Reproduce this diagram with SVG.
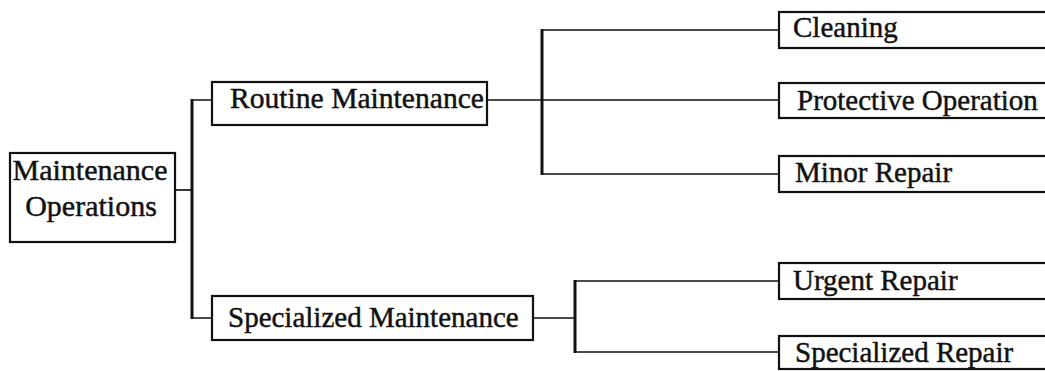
<svg xmlns="http://www.w3.org/2000/svg" width="1045" height="371" viewBox="0 0 1045 371">
  <style>
    .box { fill: #ffffff; stroke: #111111; stroke-width: 2.2; }
    .lbl { font-family: "Liberation Serif", "Times New Roman", serif; font-size: 29px; fill: #111111; stroke: #111111; stroke-width: 0.45; }
    .main { font-size: 30px; text-anchor: middle; }
    .wire { fill: none; stroke: #111111; stroke-width: 1.7; }
    .bus { fill: none; stroke: #111111; stroke-width: 3; }
  </style>
  <rect width="1045" height="371" fill="#ffffff"/>

  <!-- connectors -->
  <g id="connectors">
    <!-- root to first level -->
    <path class="wire" d="M175 190 H192"/>
    <path class="bus" d="M192 99 V319"/>
    <path class="wire" d="M192 100 H212 M192 318 H212"/>
    <!-- routine maintenance branch -->
    <path class="wire" d="M487 100 H779"/>
    <path class="bus" d="M542 29 V175"/>
    <path class="wire" d="M542 30 H779 M542 174 H779"/>
    <!-- specialized maintenance branch -->
    <path class="wire" d="M533 318 H575"/>
    <path class="bus" d="M575 280 V353"/>
    <path class="wire" d="M575 281 H779 M575 352 H779"/>
  </g>

  <g id="node-maintenance-operations">
    <rect class="box" x="10" y="153" width="165" height="89"/>
    <text class="lbl main" x="90" y="180" textLength="155" lengthAdjust="spacingAndGlyphs">Maintenance</text>
    <text class="lbl main" x="91" y="216">Operations</text>
  </g>

  <g id="node-routine-maintenance">
    <rect class="box" x="212" y="82" width="275" height="43"/>
    <text class="lbl" x="230" y="108" textLength="254" lengthAdjust="spacingAndGlyphs">Routine Maintenance</text>
  </g>

  <g id="node-specialized-maintenance">
    <rect class="box" x="212" y="296" width="321" height="44"/>
    <text class="lbl" x="228" y="327">Specialized Maintenance</text>
  </g>

  <g id="node-cleaning">
    <rect class="box" x="779" y="12" width="280" height="36"/>
    <text class="lbl" x="793" y="37">Cleaning</text>
  </g>

  <g id="node-protective-operation">
    <rect class="box" x="779" y="83" width="280" height="35"/>
    <text class="lbl" x="797" y="110">Protective Operation</text>
  </g>

  <g id="node-minor-repair">
    <rect class="box" x="779" y="156" width="280" height="36"/>
    <text class="lbl" x="795" y="182">Minor Repair</text>
  </g>

  <g id="node-urgent-repair">
    <rect class="box" x="779" y="263" width="280" height="36"/>
    <text class="lbl" x="793" y="290">Urgent Repair</text>
  </g>

  <g id="node-specialized-repair">
    <rect class="box" x="779" y="336" width="280" height="33"/>
    <text class="lbl" x="795" y="362">Specialized Repair</text>
  </g>
</svg>
